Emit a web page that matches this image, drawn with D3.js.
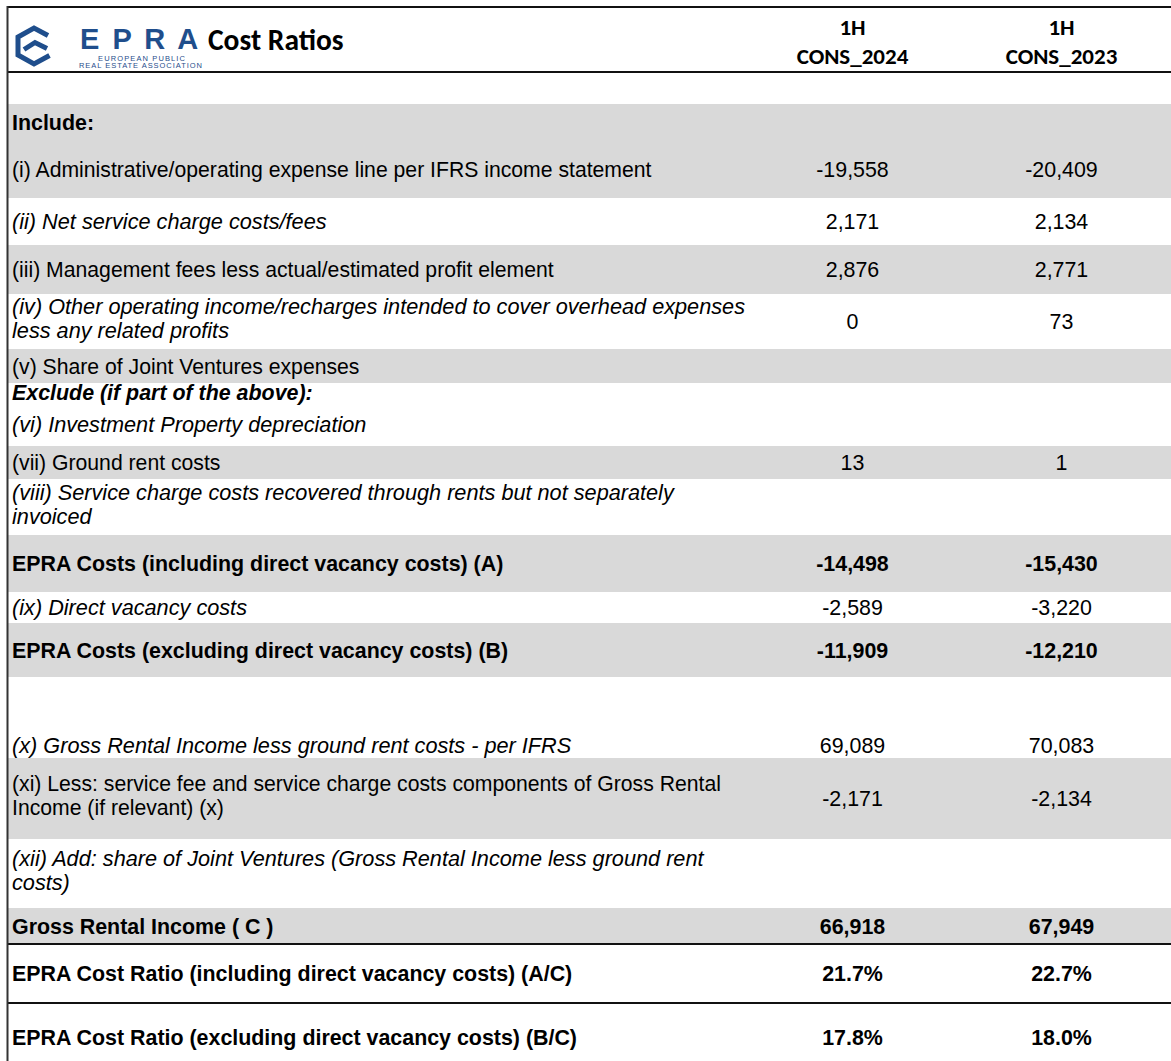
<!DOCTYPE html>
<html>
<head>
<meta charset="utf-8">
<script src="https://cdn.jsdelivr.net/npm/d3@7"></script>
<style>
  html, body { margin: 0; padding: 0; background: #fff; }
  svg { display: block; }
</style>
</head>
<body>
<script>
// ---------------- DATA ----------------
const title = "Cost Ratios";
const periodLabels = ["1H", "1H"];
const columnLabels = ["CONS_2024", "CONS_2023"];

const rowLabels = [
  "",
  "Include:",
  "(i) Administrative/operating expense line per IFRS income statement",
  "(ii) Net service charge costs/fees",
  "(iii) Management fees less actual/estimated profit element",
  "(iv) Other operating income/recharges intended to cover overhead expenses|less any related profits",
  "(v) Share of Joint Ventures expenses",
  "Exclude (if part of the above):",
  "(vi) Investment Property depreciation",
  "(vii) Ground rent costs",
  "(viii) Service charge costs recovered through rents but not separately|invoiced",
  "EPRA Costs (including direct vacancy costs) (A)",
  "(ix) Direct vacancy costs",
  "EPRA Costs (excluding direct vacancy costs) (B)",
  "",
  "(x) Gross Rental Income less ground rent costs - per IFRS",
  "(xi) Less: service fee and service charge costs components of Gross Rental|Income (if relevant) (x)",
  "(xii) Add: share of Joint Ventures (Gross Rental Income less ground rent|costs)",
  "Gross Rental Income ( C )",
  "EPRA Cost Ratio (including direct vacancy costs) (A/C)",
  "EPRA Cost Ratio (excluding direct vacancy costs) (B/C)"
];

const values2024 = [null, null, -19558, 2171, 2876, 0, null, null, null, 13, null,
  -14498, -2589, -11909, null, 69089, -2171, null, 66918, 0.217, 0.178];
const values2023 = [null, null, -20409, 2134, 2771, 73, null, null, null, 1, null,
  -15430, -3220, -12210, null, 70083, -2134, null, 67949, 0.227, 0.180];

// value kind: "n" number, "p" percent
const valueKinds = ["n","n","n","n","n","n","n","n","n","n","n",
  "n","n","n","n","n","n","n","n","p","p"];

// text style of each row: n normal, i italic, b bold, bi bold italic
const rowStyles = ["n","b","n","i","n","i","n","bi","i","n","i",
  "b","i","b","n","i","n","i","b","b","b"];

// shaded rows
const rowShaded = [false,true,true,false,true,false,true,false,false,true,false,
  true,false,true,false,false,true,false,true,false,false];

// ---------------- LAYOUT ----------------
const W = 1171, H = 1061;
const rowHeights = [32,36,58,47,49,55,34,19,44,33,56,57,31,54,55,26,81,69,36,59,68];
const headerTop = 7, headerBottom = 72;
const ruleAbove = [19, 20];      // rows with a black rule at their top
const fontLabel = "'Liberation Sans', Arial, sans-serif";
const fontHead = "Carlito, Lato, 'Open Sans', sans-serif";
const fsFor = st => st === "i" ? 21.7 : (st.includes("b") ? 21.4 : 21.2);
const lineH = 24;
const gray = "#d9d9d9";
const blue = "#1f4e8c";

const svg = d3.select("body").append("svg").attr("width", W).attr("height", H);

const tops = [headerBottom, ...d3.cumsum(rowHeights).map(v => v + headerBottom)];
const x = d3.scaleBand().domain(columnLabels).range([748, 1166]);

// row backgrounds
svg.append("g").selectAll("rect")
  .data(rowHeights.map((h, i) => ({ i, h })).filter(d => rowShaded[d.i]))
  .join("rect")
  .attr("x", 8).attr("width", W - 8)
  .attr("y", d => tops[d.i]).attr("height", d => d.h)
  .attr("fill", gray);

// labels
const labelG = svg.append("g").attr("font-family", fontLabel).attr("fill", "#000");
rowLabels.forEach((lab, i) => {
  if (!lab) return;
  const lines = lab.split("|");
  const c = tops[i] + rowHeights[i] / 2 - (lines.length > 1 ? 3 : 0);
  const st = rowStyles[i];
  const t = labelG.append("text")
    .attr("x", 12)
    .attr("font-size", fsFor(st))
    .attr("font-weight", st.includes("b") ? "bold" : "normal")
    .attr("font-style", st.includes("i") ? "italic" : "normal");
  lines.forEach((ln, k) => {
    t.append("tspan").attr("x", 12)
      .attr("y", c - (lines.length - 1) * lineH / 2 + k * lineH + 7.5)
      .text(ln);
  });
});

// values
const loc = d3.formatLocale({ decimal: ".", thousands: ",", grouping: [3], currency: ["", ""], minus: "-", percent: "%" });
const fmtN = loc.format(",");
const fmtP = loc.format(".1%");
const valG = svg.append("g").attr("font-family", fontLabel).attr("font-size", 21.4)
  .attr("text-anchor", "middle").attr("fill", "#000");
[values2024, values2023].forEach((arr, ci) => {
  arr.forEach((v, i) => {
    if (v === null) return;
    valG.append("text")
      .attr("x", x(columnLabels[ci]) + x.bandwidth() / 2)
      .attr("y", tops[i] + rowHeights[i] / 2 + 7.5)
      .attr("font-weight", rowStyles[i].includes("b") ? "bold" : "normal")
      .text(valueKinds[i] === "p" ? fmtP(v) : fmtN(v));
  });
});

// header column labels
const headG = svg.append("g").attr("font-family", fontHead).attr("font-weight", "bold")
  .attr("font-size", 23).attr("text-anchor", "middle").attr("fill", "#000");
columnLabels.forEach((c, ci) => {
  const cx = x(c) + x.bandwidth() / 2;
  headG.append("text").attr("x", cx).attr("y", 35).text(periodLabels[ci]);
  headG.append("text").attr("x", cx).attr("y", 64).text(c);
});

// title
svg.append("text").attr("x", 208).attr("y", 50)
  .attr("font-family", fontHead).attr("font-weight", "bold").attr("font-size", 29.5)
  .attr("fill", "#000").text(title);

// logo
const logo = svg.append("g").attr("fill", "none").attr("stroke", blue)
  .attr("stroke-width", 5).attr("stroke-linejoin", "miter");
logo.append("path").attr("d", "M48,35.5 L34,28 L18,37 L18,55 L34,64 L49.5,55.5");
logo.append("path").attr("d", "M24,49.5 L35,42.5 L47,48.5");
svg.append("text").attr("x", 80).attr("y", 49).attr("font-family", fontLabel)
  .attr("font-size", 29).attr("font-weight", "bold").attr("letter-spacing", 2.5)
  .attr("fill", blue).text("E P R A");
svg.append("text").attr("x", 98).attr("y", 60.5).attr("font-family", fontLabel)
  .attr("font-size", 7.5).attr("textLength", 87).attr("lengthAdjust", "spacing")
  .attr("fill", blue).text("EUROPEAN PUBLIC");
svg.append("text").attr("x", 79).attr("y", 67.5).attr("font-family", fontLabel)
  .attr("font-size", 7.5).attr("textLength", 123).attr("lengthAdjust", "spacing")
  .attr("fill", blue).text("REAL ESTATE ASSOCIATION");

// rules
const rules = svg.append("g").attr("stroke", "#111").attr("stroke-width", 2);
[headerTop, headerBottom, ...ruleAbove.map(i => tops[i])].forEach(yv => {
  rules.append("line").attr("x1", 7).attr("x2", W).attr("y1", yv).attr("y2", yv);
});
svg.append("line").attr("x1", 7.5).attr("x2", 7.5).attr("y1", headerTop - 1).attr("y2", H)
  .attr("stroke", "#333").attr("stroke-width", 2);
</script>
</body>
</html>
